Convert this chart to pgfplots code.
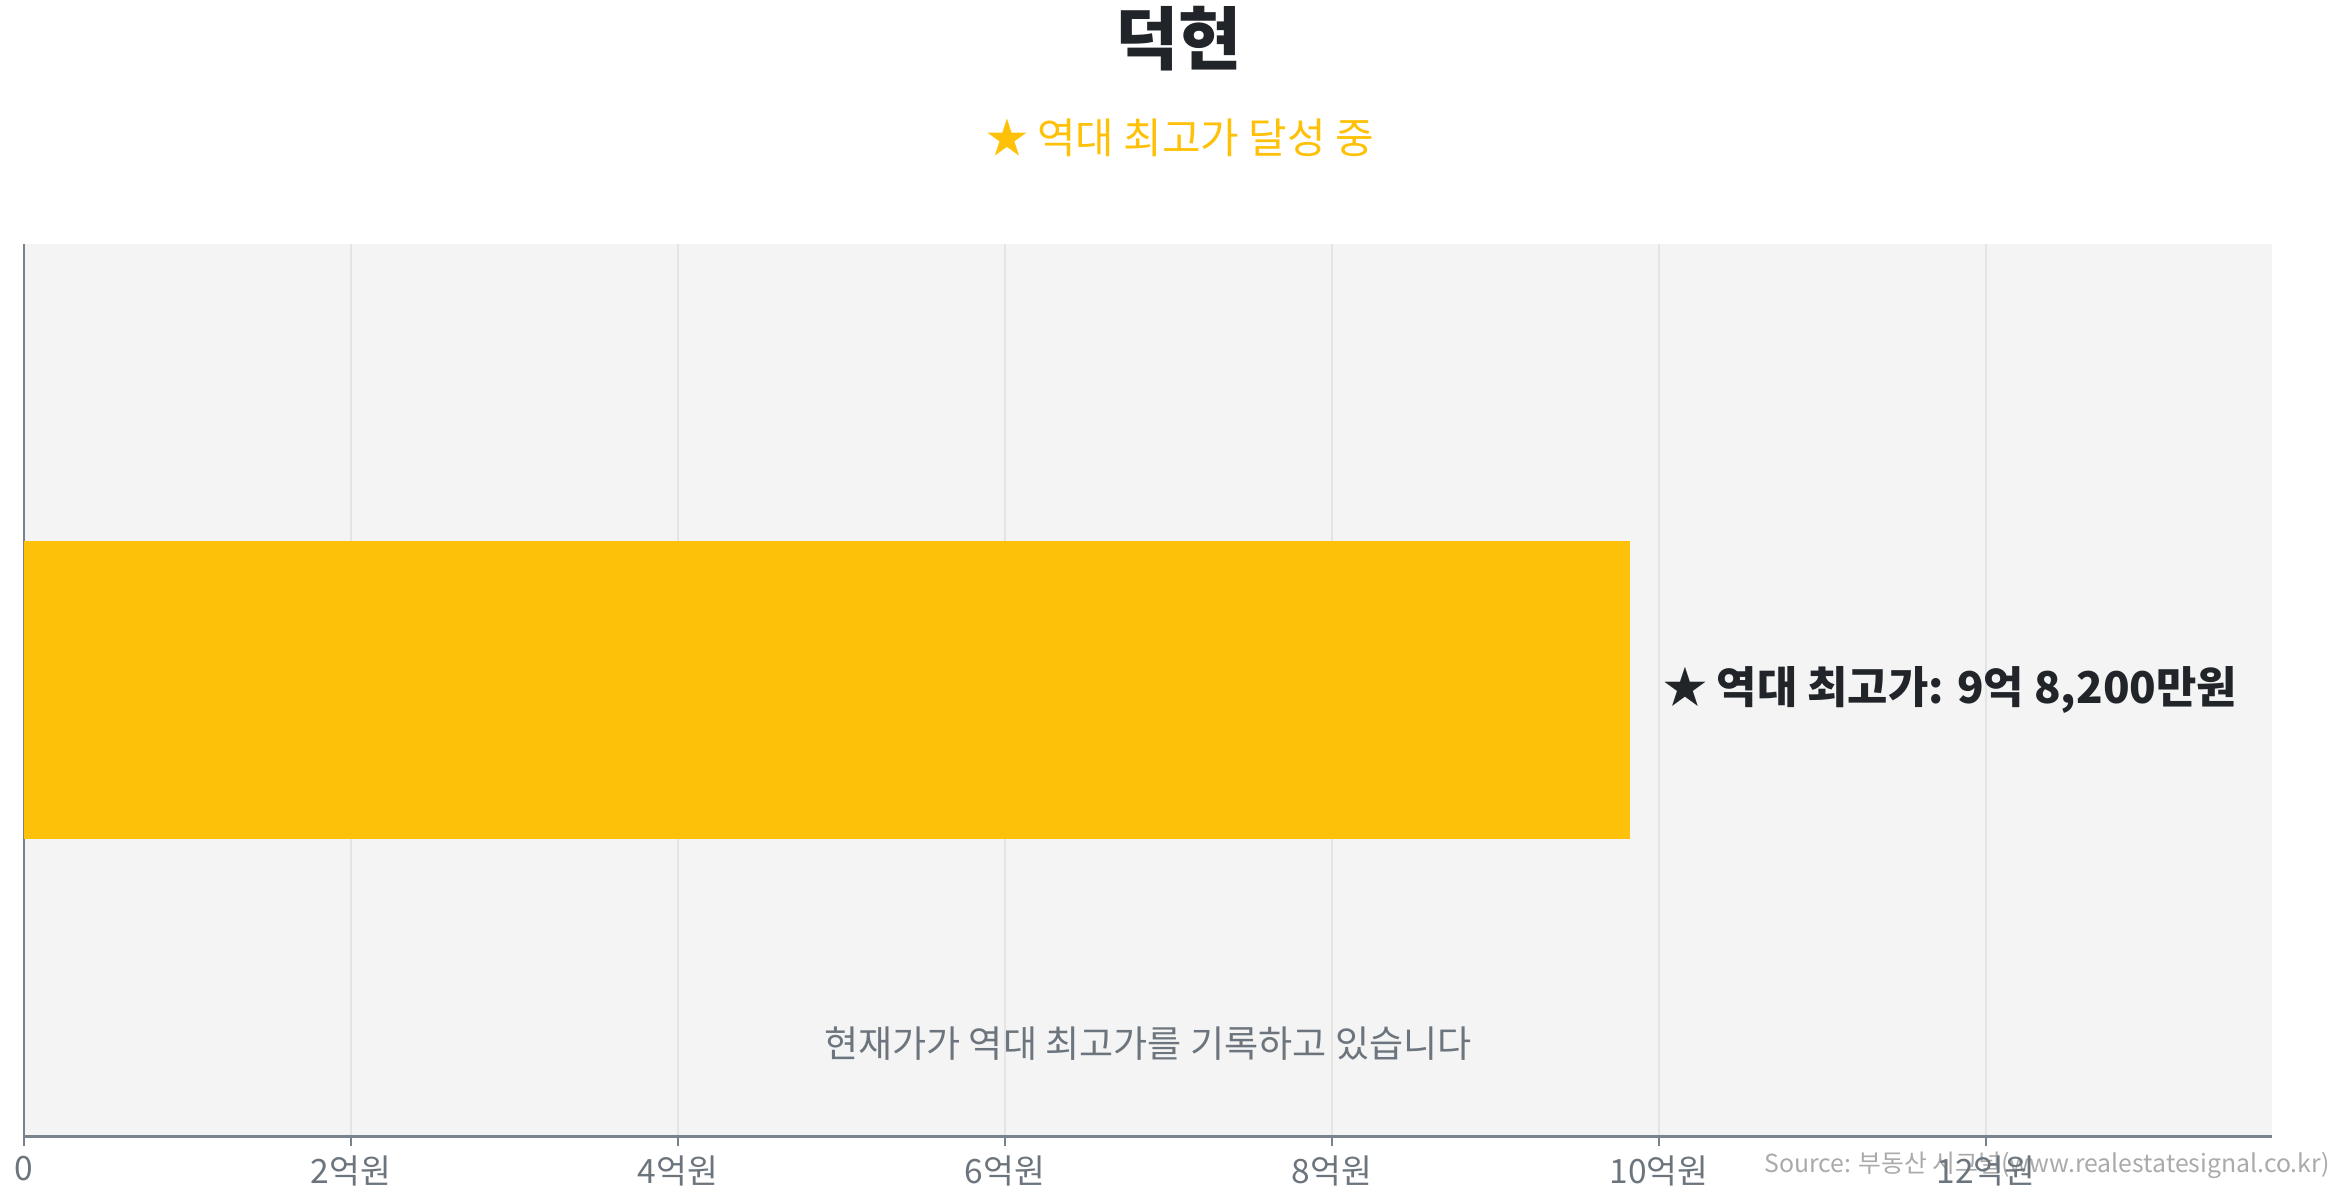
\documentclass[border=0pt]{standalone}
\usepackage{fontspec}
\setmainfont{Noto Sans CJK KR}
\usepackage{pgfplots}
\pgfplotsset{compat=1.18}
\definecolor{titlec}{HTML}{212529}
\definecolor{amber}{HTML}{FFC107}
\definecolor{barc}{HTML}{FDC10A}
\definecolor{tickgray}{HTML}{6C757D}
\definecolor{axisgray}{HTML}{7A828C}
\definecolor{srcgray}{HTML}{AAAAAA}
\definecolor{gridgray}{HTML}{E4E4E4}
\definecolor{bgc}{HTML}{F4F4F4}
\begin{document}
\begin{tikzpicture}
\path[use as bounding box] (0,0) rectangle (784pt,400pt);
\node[anchor=east, font=\fontsize{8.3}{10}\selectfont, text=srcgray, inner sep=0pt] at (779pt,10.5pt) {Source: 부동산 시그널(www.realestatesignal.co.kr)};
\begin{axis}[
  at={(8pt,20pt)}, anchor=south west,
  width=751.5pt, height=298.5pt, scale only axis,
  xbar, bar width=1,
  xmin=0, xmax=13.748, ymin=-1.5, ymax=1.5,
  xtick={0,2,4,6,8,10,12},
  xticklabels={0,2억원,4억원,6억원,8억원,10억원,12억원},
  ytick=\empty,
  axis x line*=bottom, axis y line*=left,
  axis line style={-, draw=axisgray, line width=0.8pt},
  axis background/.style={fill=bgc},
  xmajorgrids,
  major grid style={draw=gridgray, line width=0.5pt},
  tick align=outside, major tick length=3pt,
  xtick style={draw=axisgray, line width=0.6pt},
  xticklabel style={text=tickgray, font=\fontsize{11.2}{13}\selectfont},
  clip=false,
]
\addplot[fill=barc, draw=none] coordinates {(9.82,0)};
\node[anchor=west, inner sep=0pt, xshift=11pt, font=\bfseries\fontsize{14.65}{18}\selectfont, text=titlec] at (axis cs:9.82,0) {★ 역대 최고가: 9억 8,200만원};
\node[font=\fontsize{12.4}{15}\selectfont, text=tickgray] at (rel axis cs:0.5,0.104) {현재가가 역대 최고가를 기록하고 있습니다};
\end{axis}
\node[font=\bfseries\fontsize{23}{27}\selectfont, text=titlec] at (394pt,387pt) {덕현};
\node[font=\fontsize{14}{17}\selectfont, text=amber] at (394.5pt,354pt) {★ 역대 최고가 달성 중};
\end{tikzpicture}
\end{document}
